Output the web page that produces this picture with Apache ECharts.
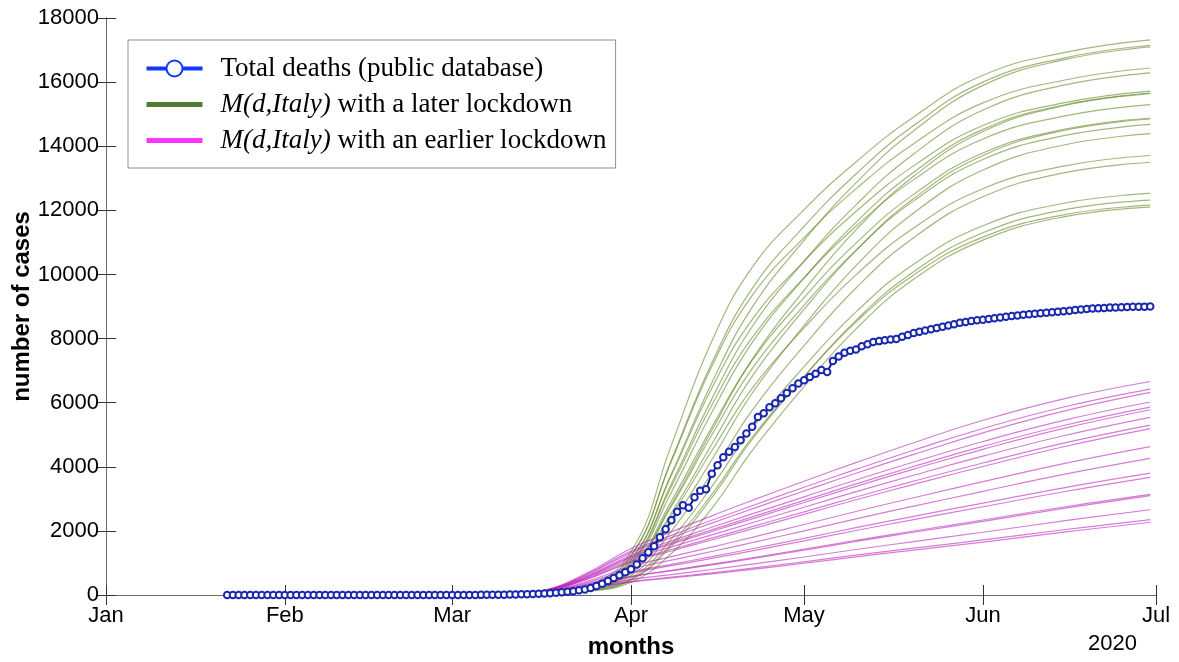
<!DOCTYPE html>
<html>
<head>
<meta charset="utf-8">
<script src="https://cdn.jsdelivr.net/npm/echarts@6/dist/echarts.min.js"></script>
<style>
  html, body { margin: 0; padding: 0; background: #ffffff; }
  #chart { width: 1179px; height: 662px; }
</style>
</head>
<body>
<div id="chart"></div>
<script>
// ---- data -------------------------------------------------------------
const monthLabels = ['Jan', 'Feb', 'Mar', 'Apr', 'May', 'Jun', 'Jul'];
const monthStarts = ['2020-01-01', '2020-02-01', '2020-03-01', '2020-04-01', '2020-05-01', '2020-06-01', '2020-07-01'];
const yearLabel = '2020';

// daily cumulative deaths, one value per day starting at deathsStart
const deathsStart = '2020-01-22';
const deathsJanFeb = [0,0,0,0,0,0,0,0,0,0, 0,0,0,0,0,0,0,0,0,0, 0,0,0,0,0,0,0,0,0,0, 0,0,0,0,0,0,0,0,0];
const deathsMar = [0,0,1,2,3,4,5,7,9,11,14,18,22,27,33,40,48,58,70,85,100,120,145,175,220,280,350,440,530,620,710];
const deathsApr = [800,950,1150,1330,1520,1800,2050,2330,2600,2800,2720,3050,3250,3300,3780,4050,4300,4470,4620,4830,5040,5250,5550,5670,5860,5980,6140,6300,6450,6600];
const deathsMay = [6700,6800,6900,7020,6960,7300,7440,7560,7620,7660,7760,7820,7890,7920,7950,7970,7990,8060,8110,8170,8210,8250,8290,8330,8370,8410,8450,8490,8520,8550,8570];
const deathsJun = [8590,8610,8630,8660,8680,8700,8720,8740,8760,8775,8790,8805,8820,8840,8855,8870,8890,8905,8920,8935,8945,8955,8965,8972,8980,8985,8990,8993,8996,9000];

// model runs, sampled on these dates
const modelDates = ['2020-03-01', '2020-03-10', '2020-03-17', '2020-03-24', '2020-04-01', '2020-04-08', '2020-04-15',
                    '2020-04-22', '2020-05-01', '2020-05-10', '2020-05-20', '2020-06-01', '2020-06-15', '2020-06-30'];

const laterLockdown = [
  [0, 0, 52, 251, 1351, 4676, 7915, 10219, 12020, 13510, 14912, 16212, 16922, 17320],
  [0, 0, 46, 233, 1223, 4212, 7236, 9558, 11499, 13135, 14646, 15999, 16750, 17150],
  [0, 0, 43, 215, 1103, 3781, 6614, 8971, 11062, 12856, 14482, 15898, 16696, 17100],
  [0, 0, 46, 229, 1208, 4171, 7128, 9341, 11151, 12669, 14078, 15353, 16059, 16440],
  [0, 0, 39, 200, 1015, 3470, 6110, 8368, 10411, 12170, 13759, 15129, 15904, 16290],
  [0, 0, 41, 209, 1085, 3732, 6448, 8589, 10416, 11966, 13387, 14648, 15352, 15720],
  [0, 0, 36, 188, 940, 3207, 5691, 7874, 9885, 11626, 13189, 14526, 15287, 15660],
  [0, 0, 31, 174, 834, 2821, 5135, 7352, 9504, 11391, 13063, 14459, 15263, 15640],
  [0, 0, 38, 193, 987, 3383, 5918, 8026, 9898, 11503, 12958, 14224, 14939, 15300],
  [0, 0, 33, 174, 860, 2927, 5233, 7319, 9276, 10977, 12498, 13788, 14524, 14880],
  [0, 0, 28, 160, 757, 2557, 4702, 6819, 8907, 10745, 12367, 13712, 14491, 14850],
  [0, 0, 31, 167, 815, 2767, 4991, 7061, 9036, 10760, 12295, 13586, 14328, 14680],
  [0, 0, 24, 147, 669, 2243, 4219, 6294, 8405, 10277, 11916, 13257, 14039, 14390],
  [0, 0, 27, 152, 731, 2473, 4501, 6445, 8332, 9985, 11451, 12675, 13380, 13710],
  [0, 0, 23, 134, 598, 1995, 3800, 5758, 7780, 9578, 11148, 12424, 13169, 13500],
  [0, 0, 20, 119, 526, 1749, 3381, 5207, 7122, 8831, 10317, 11518, 12222, 12530],
  [0, 0, 17, 110, 462, 1519, 3036, 4852, 6809, 8567, 10086, 11299, 12014, 12320],
  [0, 0, 18, 112, 484, 1599, 3138, 4921, 6817, 8513, 9985, 11165, 11860, 12160],
  [0, 0, 15, 100, 399, 1295, 2698, 4501, 6498, 8301, 9849, 11072, 11798, 12100]
];

const earlierLockdown = [
  [0, 0, 150, 650, 1450, 1970, 2470, 2950, 3550, 4130, 4750, 5450, 6120, 6660],
  [0, 0, 141, 615, 1371, 1859, 2330, 2786, 3360, 3919, 4517, 5195, 5864, 6420],
  [0, 0, 136, 593, 1323, 1790, 2243, 2685, 3246, 3798, 4385, 5056, 5737, 6320],
  [0, 0, 128, 560, 1248, 1687, 2112, 2530, 3063, 3589, 4148, 4789, 5448, 6020],
  [0, 0, 123, 540, 1203, 1624, 2032, 2437, 2953, 3465, 4010, 4635, 5287, 5860],
  [0, 0, 120, 527, 1174, 1584, 1981, 2377, 2885, 3390, 3927, 4545, 5199, 5780],
  [0, 0, 114, 500, 1114, 1501, 1877, 2253, 2738, 3223, 3737, 4331, 4968, 5540],
  [0, 0, 108, 474, 1055, 1419, 1774, 2132, 2594, 3058, 3550, 4119, 4738, 5300],
  [0, 0, 104, 459, 1022, 1374, 1717, 2064, 2515, 2970, 3451, 4010, 4625, 5190],
  [0, 0, 91, 401, 893, 1196, 1495, 1799, 2199, 2605, 3034, 3535, 4100, 4630],
  [0, 0, 82, 365, 812, 1088, 1358, 1636, 2002, 2376, 2771, 3233, 3761, 4260],
  [0, 0, 73, 322, 717, 958, 1196, 1442, 1768, 2101, 2454, 2866, 3344, 3800],
  [0, 0, 69, 308, 685, 914, 1141, 1376, 1689, 2012, 2352, 2752, 3220, 3670],
  [0, 0, 58, 261, 579, 772, 963, 1163, 1430, 1706, 1997, 2340, 2746, 3140],
  [0, 0, 57, 254, 565, 753, 938, 1135, 1397, 1670, 1957, 2296, 2702, 3100],
  [0, 0, 48, 216, 480, 638, 795, 962, 1186, 1420, 1666, 1958, 2312, 2660],
  [0, 0, 42, 188, 419, 556, 693, 839, 1036, 1243, 1461, 1719, 2036, 2350],
  [0, 0, 40, 180, 400, 530, 660, 800, 990, 1190, 1400, 1650, 1960, 2270]
];

const nameDeaths = 'Total deaths (public database)';
const nameLater = 'M(d,Italy) with a later lockdown';
const nameEarlier = 'M(d,Italy) with an earlier lockdown';

// ---- helpers ----------------------------------------------------------
const DAY_MS = 86400000;
const ORIGIN = Date.UTC(2020, 0, 1);
const dayOf = s => Math.round((Date.parse(s + 'T00:00:00Z') - ORIGIN) / DAY_MS);

const monthDays = monthStarts.map(dayOf);
const deaths = [].concat(deathsJanFeb, deathsMar, deathsApr, deathsMay, deathsJun);
const d0 = dayOf(deathsStart);
const deathPoints = deaths.map((v, i) => [d0 + i, v]);
const modelDays = modelDates.map(dayOf);
const toPoints = arr => arr.map((v, i) => [modelDays[i], v]);

const SANS = 'Liberation Sans, Arial, Helvetica, sans-serif';
const SERIF = 'Liberation Serif, Times New Roman, serif';

const series = [];
laterLockdown.forEach(run => series.push({
  name: nameLater, type: 'line', data: toPoints(run),
  symbol: 'none', smooth: 0.45,
  lineStyle: { color: 'rgba(100,135,40,0.6)', width: 1.2 },
  itemStyle: { color: '#4f7a32' },
  emphasis: { disabled: true }, silent: true, z: 2
}));
earlierLockdown.forEach(run => series.push({
  name: nameEarlier, type: 'line', data: toPoints(run),
  symbol: 'none', smooth: 0.45,
  lineStyle: { color: 'rgba(185,30,185,0.58)', width: 1.2 },
  itemStyle: { color: '#ff33ff' },
  emphasis: { disabled: true }, silent: true, z: 3
}));
series.push({
  name: nameDeaths, type: 'line', data: deathPoints,
  symbol: 'emptyCircle', symbolSize: 6.5, showAllSymbol: true,
  lineStyle: { color: '#0a0a80', width: 1.8 },
  itemStyle: { color: '#1a28b0', borderWidth: 1.4 },
  emphasis: { disabled: true }, silent: true, z: 5
});

const chart = echarts.init(document.getElementById('chart'), null, { renderer: 'canvas' });

const axisLineStyle = { color: '#6a6a6a', width: 1 };
const tickStyle = { color: '#333333', width: 1 };

chart.setOption({
  animation: false,
  backgroundColor: '#ffffff',
  grid: { left: 106, right: 23, top: 18, bottom: 67, containLabel: false, outerBoundsMode: 'none' },
  xAxis: [
    {
      type: 'value', min: monthDays[0], max: monthDays[monthDays.length - 1], position: 'bottom',
      axisLine: { show: true, lineStyle: axisLineStyle },
      axisTick: { show: true, inside: true, length: 10, customValues: monthDays, lineStyle: tickStyle },
      axisLabel: {
        customValues: monthDays, margin: 10,
        formatter: v => monthLabels[monthDays.indexOf(v)],
        fontFamily: SANS, fontSize: 22, color: '#000'
      },
      splitLine: { show: false },
      name: 'months', nameLocation: 'middle', nameGap: 40, nameMoveOverlap: false,
      nameTextStyle: { fontFamily: SANS, fontSize: 24, fontWeight: 'bold', color: '#000' }
    },
    {
      type: 'value', min: monthDays[0], max: monthDays[monthDays.length - 1], position: 'top',
      axisLine: { show: true, lineStyle: axisLineStyle },
      axisTick: { show: true, inside: true, length: 10, customValues: monthDays, lineStyle: tickStyle },
      axisLabel: { show: false },
      splitLine: { show: false }
    }
  ],
  yAxis: [
    {
      type: 'value', min: 0, max: 18000, interval: 2000, position: 'left',
      axisLine: { show: true, lineStyle: axisLineStyle },
      axisTick: { show: true, inside: true, length: 10, lineStyle: tickStyle },
      axisLabel: { margin: 7, fontFamily: SANS, fontSize: 22, color: '#000', formatter: v => String(v) },
      splitLine: { show: false },
      name: 'number of cases', nameLocation: 'middle', nameGap: 72, nameRotate: 90, nameMoveOverlap: false,
      nameTextStyle: { fontFamily: SANS, fontSize: 24, fontWeight: 'bold', color: '#000' }
    },
    {
      type: 'value', min: 0, max: 18000, interval: 2000, position: 'right',
      axisLine: { show: true, lineStyle: axisLineStyle },
      axisTick: { show: true, inside: true, length: 10, lineStyle: tickStyle },
      axisLabel: { show: false },
      splitLine: { show: false }
    }
  ],
  legend: {
    orient: 'vertical', left: 128, top: 40,
    backgroundColor: '#ffffff', borderColor: '#8f8f8f', borderWidth: 1, borderRadius: 0,
    padding: [15, 9, 14, 16],
    itemWidth: 56, itemHeight: 20, itemGap: 9,
    selectedMode: false,
    formatter: name => name.startsWith('M(d,Italy)') ? '{i|M(d,Italy)}' + name.slice('M(d,Italy)'.length) : name,
    textStyle: {
      fontFamily: SERIF, fontSize: 27, color: '#000', padding: [0, 0, 0, 13],
      rich: { i: { fontFamily: SERIF, fontSize: 27, fontStyle: 'italic', color: '#000' } }
    },
    data: [
      { name: nameDeaths, itemStyle: { color: '#1437ff', borderColor: '#1437ff', borderWidth: 3 },
        lineStyle: { color: '#1437ff', width: 4 } },
      { name: nameLater, itemStyle: { opacity: 0 }, lineStyle: { color: '#4f7d33', width: 5 } },
      { name: nameEarlier, itemStyle: { opacity: 0 }, lineStyle: { color: '#ff33ff', width: 5 } }
    ]
  },
  graphic: [
    { type: 'text', left: 1088, top: 633, style: { text: yearLabel, font: '22px ' + SANS, fill: '#000' } }
  ],
  series: series
});
</script>
</body>
</html>
